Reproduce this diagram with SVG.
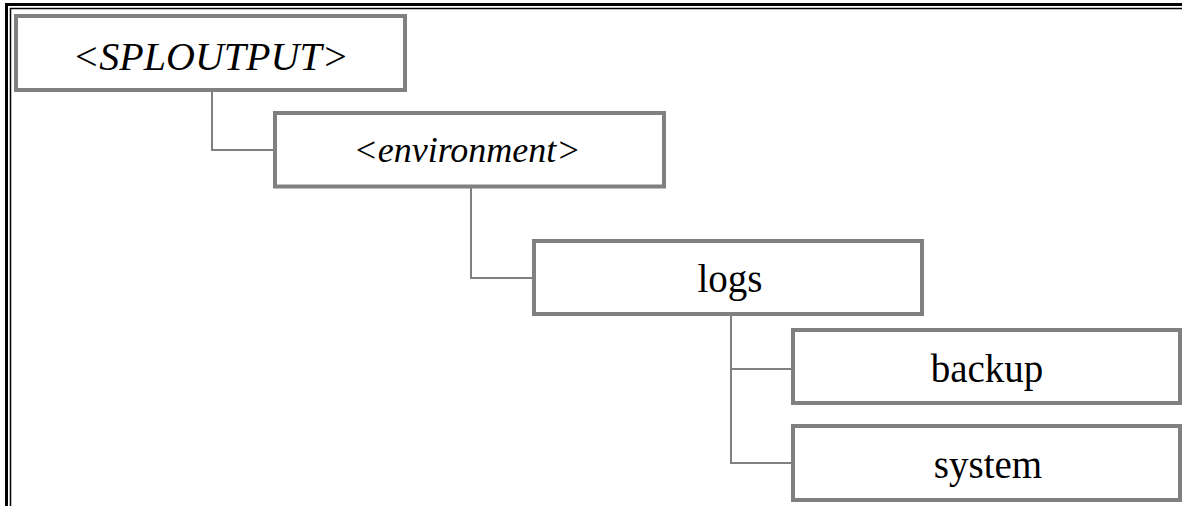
<svg xmlns="http://www.w3.org/2000/svg" width="1182" height="506" viewBox="0 0 1182 506">
<style>
.box{fill:#fff;stroke:#808080;stroke-width:4}
.conn{fill:none;stroke:#808080;stroke-width:2}
.t{font-family:"Liberation Serif","Times New Roman",serif;fill:#000;text-anchor:middle}
.it{font-style:italic}
</style>
<rect width="1182" height="506" fill="#fff"/>
<g id="frame">
<path d="M6.5 506 V4.5 H1182" fill="none" stroke="#000" stroke-width="3"/>
<path d="M10.5 506 V8.5 H1182" fill="none" stroke="#000" stroke-width="1.5"/>
</g>
<g id="connectors">
<path class="conn" d="M212 92 V150 H275"/>
<path class="conn" d="M471 188 V278 H534"/>
<path class="conn" d="M731 316 V369 H793"/>
<path class="conn" d="M731 369 V463 H793"/>
</g>
<g id="node-sploutput">
<rect class="box" x="16" y="16" width="389" height="74"/>
<text class="t it" x="210.5" y="70" font-size="40">&lt;SPLOUTPUT&gt;</text>
</g>
<g id="node-environment">
<rect class="box" x="275" y="113" width="389" height="73.5"/>
<text class="t it" x="467" y="162" font-size="36">&lt;environment&gt;</text>
</g>
<g id="node-logs">
<rect class="box" x="534" y="241" width="388" height="73"/>
<text class="t" x="730" y="292" font-size="39">logs</text>
</g>
<g id="node-backup">
<rect class="box" x="793" y="330" width="387" height="73"/>
<text class="t" x="987" y="382" font-size="39">backup</text>
</g>
<g id="node-system">
<rect class="box" x="793" y="426" width="387" height="74"/>
<text class="t" x="988" y="478" font-size="39">system</text>
</g>
</svg>
